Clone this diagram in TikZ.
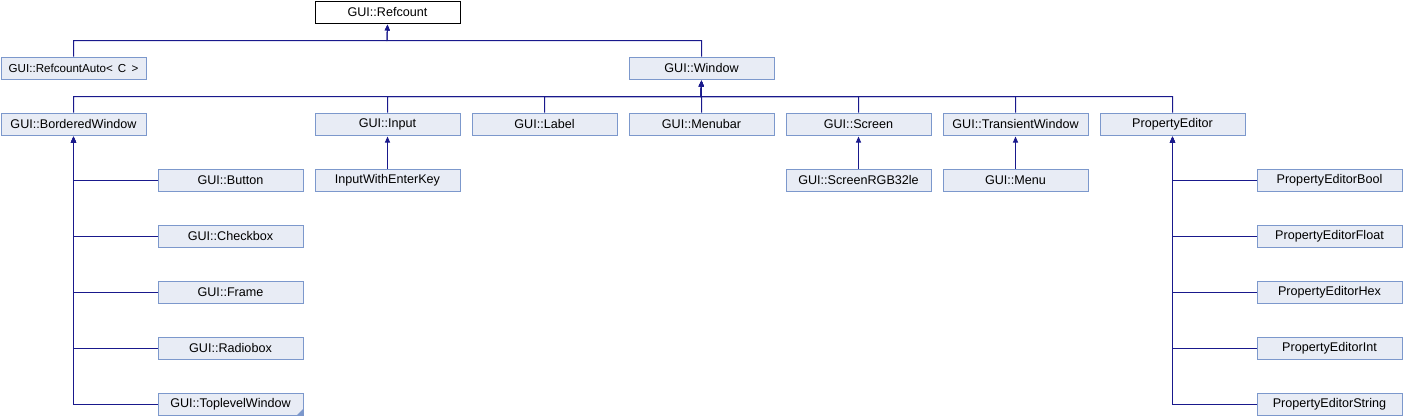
\documentclass[tikz,border=0pt]{standalone}
\usepackage{fontspec}
\setmainfont{Liberation Sans}
\usetikzlibrary{arrows.meta}
\definecolor{boxfill}{RGB}{232,236,245}
\definecolor{boxborder}{RGB}{124,152,204}
\definecolor{edgecol}{RGB}{25,25,140}
\tikzset{
  box/.style={draw=boxborder, fill=boxfill, line width=1pt, minimum width=145pt, minimum height=22pt, inner sep=0pt, anchor=north west, font=\fontsize{12.6}{14}\selectfont},
  curbox/.style={box, draw=black, fill=white},
  edge/.style={draw=edgecol, line width=1pt, -{Triangle[length=6pt,width=5pt]}, shorten >=1pt},
}
\begin{document}
\begin{tikzpicture}[x=1pt,y=-1pt]
\useasboundingbox (0,0) rectangle (1403,416);
% row 1
\node[curbox] (rc) at (314.5,0.5) {GUI::Refcount};
% row 2
\node[box, font=\fontsize{11.6}{14}\selectfont] (ra) at (0.5,56.5) {GUI::RefcountAuto<\,~C~\,>};
\node[box] (win) at (628.5,56.5) {GUI::Window};
% row 3
\node[box] (bw) at (0.5,112.5) {GUI::BorderedWindow};
\node[box] (inp) at (314.5,112.5) {GUI::Input};
\node[box] (lab) at (471.5,112.5) {GUI::Label};
\node[box] (mb) at (628.5,112.5) {GUI::Menubar};
\node[box] (scr) at (785.5,112.5) {GUI::Screen};
\node[box] (tw) at (942.5,112.5) {GUI::TransientWindow};
\node[box] (pe) at (1099.5,112.5) {PropertyEditor};
% row 4
\node[box] (btn) at (157.5,168.5) {GUI::Button};
\node[box] (iek) at (314.5,168.5) {InputWithEnterKey};
\node[box] (srgb) at (785.5,168.5) {GUI::ScreenRGB32le};
\node[box] (menu) at (942.5,168.5) {GUI::Menu};
\node[box] (peb) at (1256.5,168.5) {PropertyEditorBool};
% further rows
\node[box] (chk) at (157.5,224.5) {GUI::Checkbox};
\node[box] (frm) at (157.5,280.5) {GUI::Frame};
\node[box] (rad) at (157.5,336.5) {GUI::Radiobox};
\node[box] (tlw) at (157.5,392.5) {GUI::ToplevelWindow};
\node[box] (pef) at (1256.5,224.5) {PropertyEditorFloat};
\node[box] (peh) at (1256.5,280.5) {PropertyEditorHex};
\node[box] (pei) at (1256.5,336.5) {PropertyEditorInt};
\node[box] (pes) at (1256.5,392.5) {PropertyEditorString};
% corner mark
\fill[boxborder] (tlw.south east) -- ++(0,-7) -- ++(-7,7) -- cycle;
% buses
\coordinate (b1) at (387,40.5);
\coordinate (b2) at (701,96.5);
\foreach \c in {ra,win} \draw[edge] (\c.north) |- (b1) -- (rc.south);
\foreach \c in {bw,inp,lab,mb,scr,tw,pe} \draw[edge] (\c.north) |- (b2) -- (win.south);
\draw[edge] (iek.north) -- (inp.south);
\draw[edge] (srgb.north) -- (scr.south);
\draw[edge] (menu.north) -- (tw.south);
\foreach \c in {btn,chk,frm,rad,tlw} \draw[edge] (\c.west) -| (bw.south);
\foreach \c in {peb,pef,peh,pei,pes} \draw[edge] (\c.west) -| (pe.south);
\end{tikzpicture}
\end{document}
